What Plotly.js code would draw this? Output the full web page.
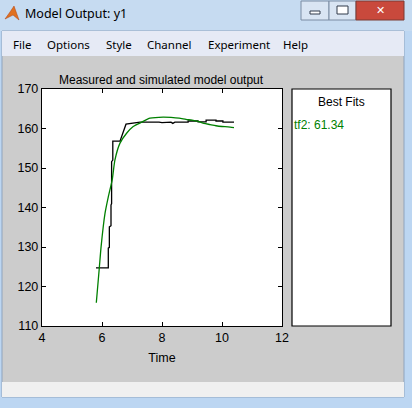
<!DOCTYPE html>
<html>
<head>
<meta charset="utf-8">
<script src="https://cdn.plot.ly/plotly-3.0.1.min.js"></script>
<style>
  html, body { margin: 0; padding: 0; background: #ffffff; }
  #modelOutput { width: 412px; height: 408px; }
</style>
</head>
<body>
<div id="modelOutput"></div>
<script>
// measured output (black)
var tiempoMedido = [5.8, 6.21, 6.21, 6.245, 6.245, 6.3, 6.3, 6.32, 6.32, 6.36, 6.36, 6.6, 6.8, 6.95, 7.27, 7.9, 8.0, 8.3, 8.36, 8.43, 8.87, 8.87, 9.2, 9.2, 9.47, 9.47, 9.8, 9.8, 10.03, 10.03, 10.4];
var salidaMedida = [124.7, 124.7, 129.7, 129.9, 135.1, 135.4, 140.6, 141.0, 151.6, 152.0, 156.8, 156.8, 161.1, 161.3, 161.6, 161.6, 161.5, 161.6, 161.3, 161.6, 161.6, 161.9, 161.9, 161.7, 161.7, 162.1, 162.1, 161.9, 161.9, 161.6, 161.6];

// simulated model output tf2 (green)
var tiempoSim = [5.81, 5.91, 5.97, 6.1, 6.21, 6.34, 6.43, 6.6, 6.82, 7.04, 7.32, 7.6, 8.04, 8.3, 8.57, 8.8, 9.0, 9.2, 9.4, 9.6, 9.8, 10.0, 10.2, 10.4];
var salidaSim = [115.9, 124.7, 130.1, 138.5, 142.7, 147.0, 152.0, 156.3, 158.8, 160.5, 161.6, 162.6, 162.9, 162.8, 162.6, 162.3, 162.1, 161.8, 161.3, 161.0, 160.7, 160.5, 160.4, 160.2];

var xTicks = [4, 6, 8, 10, 12];
var yTicks = [110, 120, 130, 140, 150, 160, 170];
var menuItems = ['File', 'Options', 'Style', 'Channel', 'Experiment', 'Help'];
var menuX = [11, 45, 104, 145, 206, 281];

var W = 412, H = 408;
function px(x){ return x / W; }
function py(y){ return 1 - y / H; }

function rect(x0, y0, x1, y1, fill, lineColor, lineWidth){
    return {
        type: 'rect', xref: 'paper', yref: 'paper', layer: 'below',
        x0: px(x0), x1: px(x1), y0: py(y1), y1: py(y0),
        fillcolor: fill,
        line: {color: lineColor || fill, width: lineWidth === undefined ? 0 : lineWidth}
    };
}

function texto(x, y, text, size, color, xanchor, family){
    return {
        xref: 'paper', yref: 'paper', x: px(x), y: py(y),
        text: text, showarrow: false,
        xanchor: xanchor || 'left', yanchor: 'middle',
        font: {size: size, color: color || '#000000', family: family || 'Liberation Sans, Arial, sans-serif'}
    };
}

var trace1 = {
    type: 'scatter',
    mode: 'lines',
    name: 'measured',
    x: tiempoMedido,
    y: salidaMedida,
    line: {color: '#000000', width: 1.3},
    hoverinfo: 'skip'
};

var trace2 = {
    type: 'scatter',
    mode: 'lines',
    name: 'tf2',
    x: tiempoSim,
    y: salidaSim,
    line: {color: '#008000', width: 1.3, shape: 'spline', smoothing: 0.6},
    hoverinfo: 'skip'
};

var shapes = [
    // window frame
    rect(0, 0, 412, 408, '#bcd6f2'),
    rect(0, 0, 412, 31, '#c6dbf1'),
    rect(2, 31, 404, 397, '#cccccc', '#8ea3bd', 1),
    rect(2, 31, 404, 56, '#e6eaf5'),
    rect(2, 382, 404, 397, '#f0f0f0'),
    // window buttons
    rect(301, 1, 329, 20, '#d9e5f3', '#7b8ca3', 1),
    rect(329, 1, 356, 20, '#d9e5f3', '#7b8ca3', 1),
    rect(356, 1, 404, 20, '#c9493c', '#7b3a33', 1),
    rect(310, 11, 320, 14, '#ffffff', '#303a4a', 1),
    rect(337, 6, 348, 14, '#ffffff', '#303a4a', 1),
    // axes background
    rect(42, 89, 282, 326, '#ffffff'),
    // best fits panel
    rect(292, 89, 391, 326, '#ffffff', '#000000', 1.2)
];

var annotations = [
    texto(23, 14, 'Model Output: y1', 12.5, '#000000', 'left', 'Noto Sans, DejaVu Sans, sans-serif'),
    texto(380, 10, '<b>✕</b>', 11, '#ffffff', 'center', 'DejaVu Sans, sans-serif'),
    texto(161, 80, 'Measured and simulated model output', 12, '#000000', 'center'),
    texto(341, 102, 'Best Fits', 12, '#000000', 'center'),
    texto(292, 125, 'tf2: 61.34', 12, '#008000', 'left')
];
for (var i = 0; i < menuItems.length; i++) {
    annotations.push(texto(menuX[i], 44, menuItems[i], 11.5, '#000000', 'left', 'Noto Sans, DejaVu Sans, sans-serif'));
}
// matlab logo
shapes.push({
    type: 'path', xref: 'paper', yref: 'paper', layer: 'below',
    path: 'M ' + px(5) + ',' + py(19) + ' L ' + px(10) + ',' + py(12) + ' L ' + px(14) + ',' + py(6) + ' L ' + px(19) + ',' + py(20) + ' L ' + px(13) + ',' + py(15) + ' Z',
    fillcolor: '#e07020', line: {color: '#b04010', width: 0.5}
});

var data = [trace1, trace2];

var layout = {
    width: W,
    height: H,
    autosize: false,
    margin: {l: 0, r: 0, t: 0, b: 0, pad: 0},
    paper_bgcolor: '#cccccc',
    plot_bgcolor: '#ffffff',
    showlegend: false,
    font: {family: 'Liberation Sans, Arial, sans-serif', size: 12, color: '#000000'},
    xaxis: {
        domain: [px(42), px(282)],
        range: [4, 12],
        tickvals: xTicks,
        ticks: 'inside',
        ticklen: 4,
        tickcolor: '#000000',
        showline: true,
        linecolor: '#000000',
        linewidth: 1.2,
        mirror: 'ticks',
        showgrid: false,
        zeroline: false,
        fixedrange: true,
        tickfont: {size: 12.5},
        title: {text: 'Time', font: {size: 12.5}, standoff: 9}
    },
    yaxis: {
        domain: [py(326), py(89)],
        range: [110, 170],
        tickvals: yTicks,
        ticks: 'inside',
        ticklen: 4,
        tickcolor: '#000000',
        showline: true,
        linecolor: '#000000',
        linewidth: 1.2,
        mirror: 'ticks',
        showgrid: false,
        zeroline: false,
        fixedrange: true,
        tickfont: {size: 12.5}
    },
    shapes: shapes,
    annotations: annotations
};

var config = {displayModeBar: false, staticPlot: true};

Plotly.newPlot('modelOutput', data, layout, config);
</script>
</body>
</html>
